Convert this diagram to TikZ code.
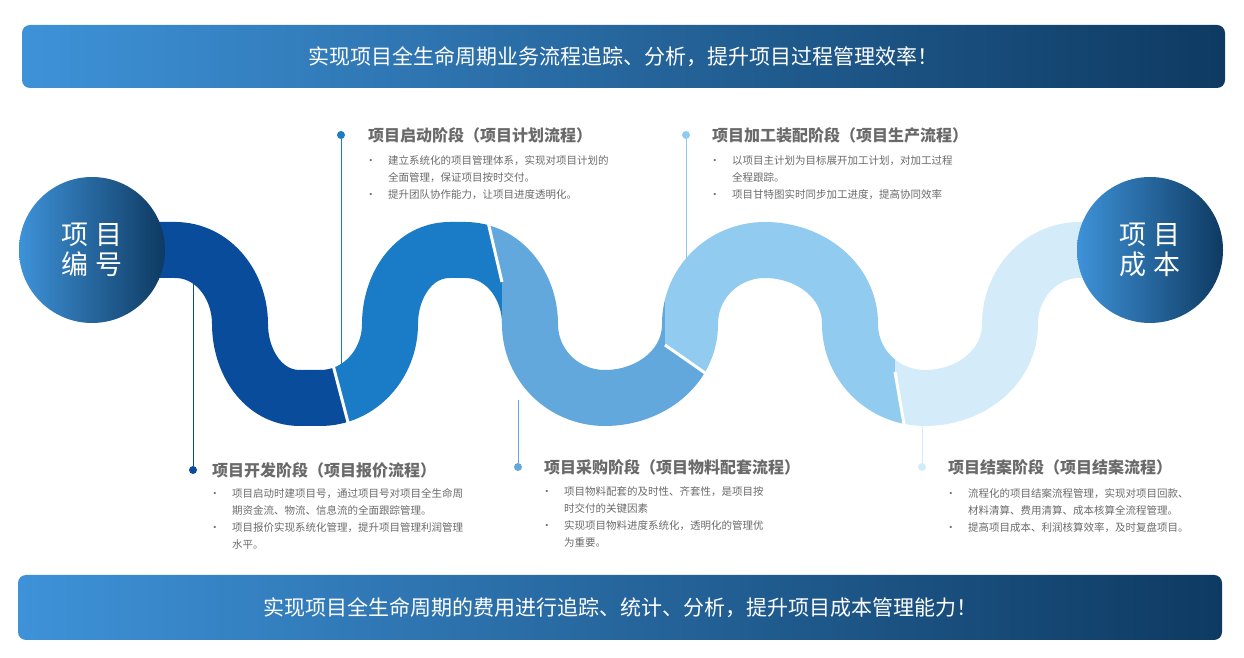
\documentclass[tikz,border=0pt]{standalone}
\usepackage{fontspec}
\setmainfont{Noto Sans CJK SC}
\usetikzlibrary{positioning}
\definecolor{cdark}{HTML}{0A4C9C}
\definecolor{cmid}{HTML}{1A7CC6}
\definecolor{cthree}{HTML}{62A8DC}
\definecolor{cfour}{HTML}{91CBEF}
\definecolor{cfive}{HTML}{D4EBF9}
\definecolor{bleft}{HTML}{3E92D8}
\definecolor{bright}{HTML}{0E3A62}
\definecolor{tgray}{HTML}{6A6A6A}
\tikzset{
  banner/.style={rounded corners=8pt, left color=bleft, right color=bright, draw=none},
  endcircle/.style={circle, minimum size=146pt, left color=bleft, right color=bright, text=white, font=\fontsize{27}{34}\selectfont, align=center, inner sep=0pt},
  stagetitle/.style={anchor=west, text=tgray, font=\bfseries\fontsize{16}{19}\selectfont, inner sep=0pt},
  bullets/.style={anchor=north west, text=tgray, font=\fontsize{10.5}{17}\selectfont, align=left, inner sep=0pt},
  stagedot/.style={circle, minimum size=8pt, inner sep=0pt},
}
\newcommand{\wave}{(140,408) -- (175,408) to[out=0,in=90] (240,334) to[out=-90,in=180] (300,260) -- (320,260)
  to[out=0,in=-90] (390,334) to[out=90,in=180] (450,408) -- (465,408)
  to[out=0,in=90] (530,334) to[out=-90,in=180] (605,260)
  to[out=0,in=-90] (690,334) to[out=90,in=180] (765,408)
  to[out=0,in=90] (850,334) to[out=-90,in=180] (925,260)
  to[out=0,in=-90] (1010,334) to[out=90,in=180] (1080,408) -- (1110,408)}
\newcommand{\stagebullets}[3]{%
  \node[bullets] (#1) at (#2) {\llap{•\hspace{12pt}}#3};}
\begin{document}
\begin{tikzpicture}[x=1pt,y=1pt]
\useasboundingbox (0,0) rectangle (1244,658);
% banners
\node[banner, minimum width=1203pt, minimum height=63pt] (topbanner) at (623.5,601.5) {};
\node[text=white, font=\fontsize{21}{25}\selectfont] at (topbanner) {实现项目全生命周期业务流程追踪、分析，提升项目过程管理效率！};
\node[banner, minimum width=1204pt, minimum height=65pt] (botbanner) at (620,50.5) {};
\node[text=white, font=\fontsize{21}{25}\selectfont] at (botbanner) {实现项目全生命周期的费用进行追踪、统计、分析，提升项目成本管理能力！};
% marker lines
\node[stagedot, fill=cdark] (d1) at (193,188) {};
\node[stagedot, fill=cmid] (d2) at (341,523) {};
\node[stagedot, fill=cthree] (d3) at (518,191) {};
\node[stagedot, fill=cfour] (d4) at (686,523) {};
\node[stagedot, fill=cfive] (d5) at (922,191) {};
\coordinate (e1) at (193,380);
\coordinate (e2) at (341,290);
\coordinate (e3) at (518,258);
\coordinate (e4) at (686,395);
\coordinate (e5) at (922,235);
\draw[cdark, line width=1pt] (d1) -- (e1);
\draw[cmid, line width=1pt] (d2) -- (e2);
\draw[cthree, line width=1pt] (d3) -- (e3);
\draw[cfour, line width=1pt] (d4) -- (e4);
\draw[cfive, line width=1pt] (d5) -- (e5);
% wave
\begin{scope}
\clip (100,500) -- (333,500) -- (333,293) -- (350,228) -- (350,150) -- (100,150) -- cycle;
\draw[cdark, line width=56pt] \wave;
\end{scope}
\begin{scope}
\clip (333,500) -- (488,500) -- (488,436) -- (502,376) -- (502,150) -- (350,150) -- (350,228) -- (333,293) -- cycle;
\draw[cmid, line width=56pt] \wave;
\end{scope}
\begin{scope}
\clip (488,500) -- (665,500) -- (665,313) -- (718,276) -- (718,150) -- (502,150) -- (502,376) -- (488,436) -- cycle;
\draw[cthree, line width=56pt] \wave;
\end{scope}
\begin{scope}
\clip (665,500) -- (895,500) -- (895,286) -- (905,228) -- (905,150) -- (718,150) -- (718,276) -- (665,313) -- cycle;
\draw[cfour, line width=56pt] \wave;
\end{scope}
\begin{scope}
\clip (895,500) -- (1150,500) -- (1150,150) -- (905,150) -- (905,228) -- (895,286) -- cycle;
\draw[cfive, line width=56pt] \wave;
\end{scope}
\draw[white, line width=3pt] (333,293) -- (350,228);
\draw[white, line width=3pt] (488,436) -- (502,376);
\draw[white, line width=3pt] (665,313) -- (718,276);
\draw[white, line width=3pt] (895,286) -- (905,228);
% end circles
\node[endcircle] (startc) at (92,408) {项 目\\[-4pt]编 号};
\node[endcircle] (endc) at (1150,408) {项 目\\[-4pt]成 本};
% stage texts
\node[stagetitle] (t2) at (368,523) {项目启动阶段（项目计划流程）};
\stagebullets{b2a}{388,503}{建立系统化的项目管理体系，实现对项目计划的\\全面管理，保证项目按时交付。}
\stagebullets{b2b}{388,469}{提升团队协作能力，让项目进度透明化。}
\node[stagetitle] (t4) at (712,523) {项目加工装配阶段（项目生产流程）};
\stagebullets{b4a}{732,503}{以项目主计划为目标展开加工计划，对加工过程\\全程跟踪。}
\stagebullets{b4b}{732,469}{项目甘特图实时同步加工进度，提高协同效率}
\node[stagetitle] (t1) at (212,188) {项目开发阶段（项目报价流程）};
\stagebullets{b1a}{232,170}{项目启动时建项目号，通过项目号对项目全生命周\\期资金流、物流、信息流的全面跟踪管理。}
\stagebullets{b1b}{232,136}{项目报价实现系统化管理，提升项目管理利润管理\\水平。}
\node[stagetitle] (t3) at (544,191) {项目采购阶段（项目物料配套流程）};
\stagebullets{b3a}{564,172}{项目物料配套的及时性、齐套性，是项目按\\时交付的关键因素}
\stagebullets{b3b}{564,138}{实现项目物料进度系统化，透明化的管理优\\为重要。}
\node[stagetitle] (t5) at (948,191) {项目结案阶段（项目结案流程）};
\stagebullets{b5a}{968,170}{流程化的项目结案流程管理，实现对项目回款、\\材料清算、费用清算、成本核算全流程管理。}
\stagebullets{b5b}{968,136}{提高项目成本、利润核算效率，及时复盘项目。}
\end{tikzpicture}
\end{document}
